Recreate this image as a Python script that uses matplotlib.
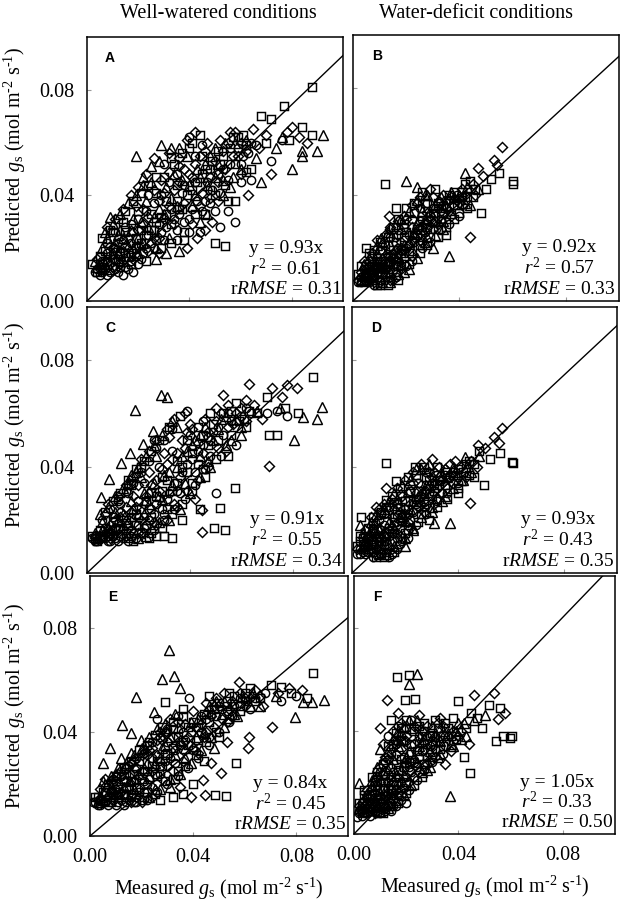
import numpy as np
import matplotlib
matplotlib.use("Agg")
import matplotlib.pyplot as plt

plt.rcParams['font.family'] = ['Liberation Serif', 'DejaVu Serif']
plt.rcParams['mathtext.fontset'] = 'custom'
plt.rcParams['mathtext.rm'] = 'Liberation Serif'
plt.rcParams['mathtext.it'] = 'Liberation Serif:italic'

# point values in mmol m-2 s-1 (x = measured, y = predicted), divided by 1000 when drawn
# panel A, well-watered
a_circ = [(3,11),(5,10),(7,12),(8,10),(10,13),(12,11),(14,10),(16,12),(18,11),(6,15),(9,17),(13,19),(17,22),(20,14),
          (22,18),(24,25),(26,20),(28,29),(30,23),(33,35),(35,27),(37,41),(40,31),(42,45),(44,26),(46,38),(48,50),(50,34),
          (52,28),(55,46),(58,30),(60,52),(63,56),(66,59),(72,53),(40,62),(76,61),(24,40),(30,52),(15,28),
          (4,12),(6,11),(9,11),(11,12),(13,13),(15,13),(17,15),(19,17),(21,16),(23,20),(25,22),(27,23),(29,26),(31,28),
          (34,31),(36,33),(38,30),(41,35),(43,38),(45,34),(47,45),(49,42),(51,48),(53,50),(56,52),(59,58),(61,55),
          (64,60),(10,20),(8,18),
          (8,22),(11,26),(14,23),(17,29),(20,31),(23,34),(26,37),(29,40),(32,45),(35,48),(38,44),(42,55),(45,59),
          (48,37),(52,41),(55,34),(60,45),(64,46),(35,23),(40,26)]
a_tri = [(4,13),(6,20),(8,24),(9,32),(11,22),(13,27),(16,17),(19,55),(29,59),(21,30),(23,38),(25,45),(27,16),(31,43),
         (34,48),(36,19),(39,55),(41,36),(43,50),(47,44),(50,58),(53,40),(57,47),(62,61),(68,45),(74,58),(80,50),(84,57),
         (84,55),(90,57),(92,63),(76,62),(10,18),(14,24),(18,31),(32,24),
         (3,15),(5,14),(7,14),(9,12),(12,18),(14,15),(16,21),(18,20),(20,24),(22,22),(24,28),(26,32),(28,35),(30,33),
         (33,39),(35,36),(37,46),(40,44),(42,40),(44,47),(46,52),(48,55),(51,52),(54,60),(58,60),(12,25),(17,27),(22,44),
         (7,26),(10,29),(13,33),(16,37),(19,40),(22,47),(25,51),(28,53),(33,58),(36,58),(44,30),(47,33),(50,47),
         (53,46),(56,43),(60,50),(66,54),(31,18),(27,20),(20,18)]
a_sq = [(2,14),(5,17),(7,19),(10,26),(12,15),(15,34),(17,14),(19,24),(21,41),(23,15),(25,33),(27,47),(29,20),(31,38),
        (33,54),(35,44),(38,26),(40,58),(42,33),(45,55),(48,42),(50,22),(54,21),(52,52),(55,38),(57,62),(58,38),(61,63),
        (64,50),(68,70),(72,69),(77,74),(88,81),(84,66),(88,63),(79,61),(70,60),(36,35),(26,27),
        (4,11),(6,13),(8,15),(11,16),(13,17),(15,18),(17,18),(19,20),(21,22),(23,25),(25,27),(27,30),(29,32),(31,33),
        (33,29),(35,38),(37,35),(39,40),(41,42),(43,45),(45,48),(47,50),(49,53),(51,57),(53,55),(56,58),(59,62),(62,59),
        (20,34),(14,30),
        (6,24),(9,27),(12,31),(15,26),(18,38),(21,27),(24,44),(27,41),(30,47),(34,52),(37,56),(41,60),(44,63),(46,33),
        (50,40),(54,44),(58,52),(62,49),(38,23),(33,22)]
a_dia = [(4,16),(6,12),(9,14),(11,20),(13,14),(15,21),(18,16),(20,27),(22,35),(24,19),(26,42),(28,24),(30,31),(32,49),
         (34,29),(36,51),(38,37),(41,47),(43,24),(45,41),(47,60),(49,30),(51,45),(53,57),(56,64),(59,55),(63,40),(65,65),
         (67,58),(72,48),(78,64),(80,66),(83,62),(86,60),(70,63),(39,20),(46,27),
         (5,12),(7,15),(10,16),(12,22),(14,19),(16,24),(18,26),(20,21),(22,29),(24,32),(26,24),(28,38),(30,41),(32,36),
         (34,42),(36,45),(38,50),(40,48),(42,52),(44,55),(46,57),(48,47),(50,53),(52,61),(55,60),(58,64),(60,60),(62,57),
         (19,36),(9,21),
         (8,28),(11,31),(14,35),(17,40),(20,43),(23,48),(26,54),(29,46),(32,56),(36,54),(39,61),(42,64),(44,36),
         (48,39),(51,38),(54,50),(57,55),(60,48),(41,29),(28,18)]

# panel B, water-deficit
b_circ = [(2,7),(3,9),(5,8),(6,7),(8,9),(10,8),(12,10),(14,9),(4,12),(7,13),(9,15),(11,12),(13,17),(15,14),(17,20),
          (19,16),(21,25),(23,22),(25,30),(27,26),(30,35),(33,31),(35,38),(38,36),(16,11),(20,13),(6,10),
          (3,7),(4,9),(5,10),(7,9),(8,11),(9,10),(11,10),(12,12),(13,11),(14,12),(15,16),(17,15),(18,19),(20,20),(22,23),
          (24,25),(26,28),(28,30),(29,32),(31,33),(32,35),(34,36),(36,38),(39,40),(41,39),(10,11),(16,13),
          (5,14),(7,17),(10,19),(12,21),(14,24),(17,25),(19,28),(22,31),(25,35),(28,37),(8,6),(12,8),(16,9),(19,14),
          (22,15),(26,20),(29,22),(33,27),(36,29),(40,32)]
b_tri = [(3,8),(5,11),(7,10),(9,18),(10.5,23.5),(12,13),(14,21),(16,16),(18,27),(20,45),(24,43),(28,40),(22,19),(24,29),
         (26,34),(28,24),(30,30),(32,38),(34,27),(36,17),(37,41),(40,40),(42,48),(44,36),(47,42),(30,20),(19,11),
         (4,8),(6,9),(7,12),(8,13),(10,13),(11,16),(13,15),(15,18),(17,17),(19,21),(21,22),(23,26),(25,27),(27,31),
         (29,34),(31,36),(33,39),(35,36),(38,39),(43,43),(14,11),(18,14),
         (4,14),(6,16),(9,21),(11,22),(13,26),(16,29),(18,31),(21,34),(24,38),(27,40),(11,7),(14,7),(17,10),(21,12),
         (24,16),(27,22),(31,25),(34,30),(37,33),(42,37)]
b_sq = [(2,10),(4,7),(5,20),(7,15),(9,11),(11,19),(12,44),(13,14),(15,24),(16,35),(17,13),(19,29),(21,18),(23,33),
        (25,21),(27,37),(29,27),(31,42),(33,35),(35,25),(38,41),(40,33),(42,44),(45,39),(48,33),(50,42),(55,48),(60,44),
        (60,45),(52,46),(44,45),(10,6),
        (3,8),(5,9),(6,11),(8,14),(9,13),(11,14),(12,15),(14,15),(15,19),(16,22),(18,18),(19,24),(20,26),(22,25),
        (24,27),(26,32),(28,28),(30,33),(32,37),(34,33),(36,40),(39,36),(41,41),(43,39),(46,42),(7,8),
        (3,13),(6,18),(8,19),(10,22),(13,24),(15,28),(17,31),(20,35),(23,37),(26,41),(9,6),(13,6),(17,8),(21,14),
        (25,18),(28,21),(32,24),(35,28),(38,31),(43,35)]
b_dia = [(3,11),(6,13),(8,12),(10,15),(12,17),(13.5,32),(14,28),(16,19),(18,22),(20,31),(22,28),(24,37),(26,25),(28,33),
         (30,39),(32,29),(34,40),(36,34),(39,38),(41,42),(44,24),(47,50),(53,53),(54,51),(56,58),(49,47),(15,8),(8,7),
         (2,8),(4,10),(5,12),(7,11),(9,12),(11,13),(13,13),(14,17),(16,17),(18,20),(19,19),(21,21),(23,24),(25,28),
         (27,29),(29,31),(31,30),(33,34),(35,35),(37,39),(40,37),(42,40),(45,44),(6,8),
         (4,15),(7,18),(9,23),(12,25),(14,27),(17,30),(19,32),(22,36),(25,39),(29,42),(10,7),(14,8),(18,12),(22,17),
         (26,22),(30,27),(33,30),(37,32),(41,36),(46,40)]

# panel C, well-watered
c_circ = [(2,13),(4,12),(6,13),(8,12),(10,14),(12,12),(14,13),(16,12),(19,13),(7,17),(10,21),(13,26),(16,30),(20,18),
          (22,34),(25,24),(28,40),(30,20),(33,46),(36,30),(39,61),(40,52),(42,38),(45,57),(48,44),(50,30),(55,60),(58,48),
          (62,62),(70,60),(74,61),(78,59),(26,50),
          (3,12),(5,13),(7,13),(9,12),(11,13),(13,14),(15,14),(17,16),(18,15),(21,15),(23,18),(24,20),(26,22),(27,26),
          (29,24),(31,28),(32,30),(34,34),(35,31),(37,38),(39,41),(41,43),(43,46),(45,48),(47,51),(49,53),(51,55),
          (53,52),(56,57),(60,59),(64,60),(12,17),(20,27),
          (6,20),(9,24),(12,27),(15,31),(18,34),(21,38),(24,42),(27,47),(30,50),(33,54),(14,16),(17,14),(22,17),
          (26,16),(30,22),(34,24),(38,28),(42,33),(46,39),(52,44)]
c_tri = [(3,15),(5.5,28.6),(8.6,35.3),(13.2,41.5),(16.6,45),(18.6,61.3),(21.7,48.5),(25.6,53.5),(28.7,67),(31,66),(6,19),
         (9,16),(11,23),(14,18),(17,27),(19,38),(22,22),(24,31),(27,44),(29,28),(32,38),(35,55),(38,34),(41,48),(44,52),
         (47,42),(52,58),(56,50),(60,55),(66,61),(80.4,50),(84,58.8),(89.6,58),(91.5,62.3),(75,62),
         (4,13),(6,16),(8,17),(10,17),(12,20),(14,22),(16,19),(18,24),(20,22),(22,30),(24,26),(26,34),(28,29),(30,37),
         (33,33),(35,40),(37,44),(39,46),(42,50),(44,44),(46,55),(49,50),(51,54),(54,59),(58,58),(16,34),(21,36),
         (5,22),(8,25),(11,29),(14,32),(17,37),(20,40),(23,44),(26,48),(29,52),(33,57),(20,13),(23,14),(28,19),
         (32,20),(36,24),(40,30),(44,36),(48,40),(54,48),(60,52)]
c_sq = [(3,13),(5,16),(8,14),(10,19),(12,28),(15,15),(17,33),(19,22),(21,40),(23,17),(25,30),(27,14),(29,36),(31,24),
        (33,13),(35,42),(37,20),(39,50),(41,31),(43,55),(46,36),(48,60),(49.5,17),(53.7,16),(51.8,24.4),(57.5,32),(55,44),
        (58,64),(62,55),(66,60),(71,52),(74,52),(77,62),(82,60),(88,73.8),(70,66),(44,24),
        (2,14),(4,12),(6,14),(9,15),(11,16),(13,17),(15,20),(17,21),(19,18),(21,24),(23,27),(25,21),(27,29),(29,31),
        (31,35),(33,31),(35,34),(37,40),(39,38),(41,45),(43,41),(45,52),(47,48),(49,56),(51,50),(53,60),(56,61),(59,57),
        (63,61),(18,12),(24,13),(30,14),
        (7,23),(10,27),(13,30),(16,35),(19,39),(22,42),(25,46),(28,50),(32,55),(36,59),(16,13),(25,15),(29,17),
        (33,22),(37,26),(41,34),(45,39),(50,43),(56,52),(61,58)]
c_dia = [(4,14),(7,22),(9,13),(11,17),(13,21),(15,25),(18,29),(20,15),(22,26),(24,38),(26,19),(28,31),(30,45),(32,51),
         (34,26),(36,36),(38,47),(40,56),(42,28),(44.6,23.7),(44.8,15.5),(46,58),(48,50),(50,62),(53,67),(54,46),(57,56),
         (60,62),(63,71),(65,63),(68,58),(71,40.3),(71.9,69.7),(78,70.7),(81.9,69.7),(76,66),
         (3,14),(5,14),(7,15),(9,18),(11,20),(13,23),(15,18),(17,23),(19,25),(21,20),(23,29),(25,33),(27,35),(29,39),
         (31,41),(33,43),(35,45),(37,50),(39,53),(41,54),(43,49),(45,45),(47,53),(50,57),(52,60),(55,63),(58,60),(62,65),
         (20,33),
         (8,26),(12,29),(15,33),(18,36),(21,43),(24,46),(27,50),(31,54),(34,58),(38,60),(22,15),(27,18),(31,20),
         (35,25),(39,31),(43,35),(47,40),(51,47),(55,55),(62,57)]

# panel D, water-deficit
d_circ = [(2,7),(3,9),(5,7),(7,8),(9,7),(11,9),(13,8),(15,7),(17,9),(4,11),(6,13),(8,15),(10,12),(12,18),(14,14),(16,21),
          (18,17),(20,24),(22,20),(25,28),(28,26),(31,33),(34,30),(37,36),(40,34),(6,10),(19,12),
          (3,7),(4,8),(6,8),(8,9),(10,9),(12,10),(13,12),(15,12),(16,15),(17,13),(18,20),(19,19),(21,22),(23,23),(24,26),
          (26,29),(27,25),(29,30),(30,34),(32,32),(33,35),(35,37),(38,38),(11,16),(7,11),
          (5,14),(8,17),(10,20),(12,22),(14,25),(17,26),(19,27),(22,31),(25,34),(28,38),(8,6),(11,7),(14,6),(18,11),
          (21,13),(24,18),(28,22),(32,27),(36,30),(40,36)]
d_tri = [(3,18),(5,12),(7,16),(9,20),(11,14),(13,23),(15,18),(17,28),(19,22),(21,31),(24,39),(23,16),(26,27),(28,33),
         (30,25),(31,18.7),(33,37),(35,29),(37,18.7),(38,40),(41,35),(42.6,43.7),(45,38),(48,44),(20,10),
         (4,10),(6,11),(8,13),(9,14),(10,16),(12,15),(14,19),(16,17),(18,21),(20,20),(22,24),(23,27),(25,29),(27,30),
         (29,33),(31,35),(34,37),(36,36),(39,38),(43,40),(14,11),
         (4,15),(7,19),(9,22),(12,24),(14,27),(16,30),(19,33),(22,35),(26,39),(29,41),(10,7),(13,7),(16,10),(20,13),
         (23,17),(26,21),(30,23),(34,27),(38,32),(42,35)]
d_sq = [(2,10),(3.5,21),(6,9),(8,18),(10,13),(12.7,41.5),(13,27.4),(14,17),(16.6,34.7),(18,25),(20,15),(22,30),(23.6,40),
        (26,22),(28,36),(30,29),(32,40),(35,33),(38,37),(40,30),(43,41),(46,36),(49.8,33),(52,43),(56,45),(60.3,41.8),
        (60.8,41.2),(48,46),(12,11),
        (3,12),(4,13),(5,10),(7,12),(9,12),(11,12),(13,14),(15,15),(16,19),(17,22),(19,21),(20,27),(21,24),(24,28),
        (25,31),(27,27),(29,35),(31,31),(33,33),(36,38),(40,39),(42,38),(44,42),(46,41),(8,8),
        (3,14),(6,17),(8,21),(11,23),(13,25),(15,29),(18,32),(21,36),(24,37),(27,40),(9,6),(12,6),(16,8),(21,16),
        (25,19),(29,20),(32,25),(36,28),(40,32),(44,37)]
d_dia = [(4,9),(6,14),(8,11),(10,17),(11,22),(13,32),(15,26),(17,15),(19,29),(21,19),(23,34),(25,25),(27,31),(29,38),
         (32,28),(34,35),(36,32),(39,42),(44.5,26.2),(47.5,48),(53.6,51.3),(55.5,48.9),(56.5,54.4),(50,47),(9,25),
         (2,9),(5,11),(7,14),(8,16),(10,14),(12,14),(14,16),(15,21),(16,24),(18,23),(20,22),(22,26),(24,30),(26,33),
         (28,31),(30,36),(31,38),(33,40),(35,39),(37,41),(41,40),(45,42),(9,9),
         (5,16),(7,21),(10,24),(12,26),(15,28),(17,32),(20,35),(23,38),(26,41),(30,43),(11,8),(15,9),(19,13),(22,17),
         (27,23),(31,26),(34,30),(38,34),(43,36),(47,40)]

# panel E, well-watered
e_circ = [(1.3,13),(3,12),(5,13),(7,12),(9,14),(11,13),(13,12),(15,14),(17,13),(20,14),(6,17),(9,20),(12,23),(15,18),
          (18,26),(21,21),(24,30),(27,24),(30,36),(33,28),(36,40),(38.2,52.9),(40,33),(43,46),(46,38),(50,50),(54,44),
          (58,53),(62,49),(68,55),(74,52),(80,54),(26,45),
          (2,13),(4,12),(6,13),(8,13),(10,12),(12,14),(14,13),(16,16),(18,15),(19,17),(21,17),(22,20),(23,22),(25,24),
          (27,27),(29,29),(31,30),(33,33),(35,35),(37,37),(39,40),(41,42),(43,40),(45,45),(47,47),(49,46),(51,49),
          (53,48),(56,50),(60,52),(64,53),(11,17),(7,15),
          (6,19),(9,22),(12,25),(15,27),(18,30),(21,32),(24,36),(27,38),(30,41),(34,46),(18,13),(22,14),(26,17),
          (30,20),(34,23),(38,26),(42,30),(46,35),(50,40),(55,46)]
e_tri = [(30.5,71.5),(27.8,60.3),(32.7,61.5),(35,56.8),(17.8,53.3),(12.4,42.7),(7.8,33.7),(5,28),(16,39.6),(19.8,37),
         (24.7,47.8),(4,15),(8,19),(10,24),(14,16),(17,22),(22,28),(25,18),(28,34),(31,22),(34,42),(37,30),(41,38),(45,48),
         (48,34),(52,52),(56,47),(63,55),(72,54),(79.3,45.6),(82.4,51.7),(86,51.7),(90.8,52.3),(66,50),
         (3,13),(5,14),(7,16),(9,18),(11,16),(13,19),(15,21),(17,18),(19,24),(21,26),(23,23),(25,28),(27,30),(29,35),
         (31,38),(33,31),(35,37),(37,34),(39,44),(42,45),(44,40),(46,50),(49,52),(51,47),(55,51),(59,54),(12,30),(16,32),
         (5,21),(8,23),(11,26),(14,28),(17,31),(20,34),(23,38),(26,41),(29,43),(33,47),(23,15),(27,18),(31,19),
         (35,24),(39,28),(43,33),(47,38),(52,42),(57,46),(62,50)]
e_sq = [(2,15),(5,17),(8,13),(10,21),(13,26),(16,15),(19,29),(22,17),(23,36),(26,23),(29,51.7),(29,31),(32,41),(34,25),
        (36,46),(38,35),(40,20),(42,42),(44,29),(46,54),(48.5,15.8),(52.8,15.4),(50,38),(56.7,28),(54,55),(58,48),(62,57),
        (66,53),(70,58),(74,57.4),(78,55),(86.5,62.6),(84,53),
        (3,15),(6,14),(9,15),(11,15),(13,16),(14,19),(16,21),(17,24),(18,19),(20,22),(22,25),(24,27),(26,29),(28,27),
        (30,32),(32,34),(34,38),(36,36),(38,42),(40,44),(42,37),(44,47),(46,44),(48,49),(50,51),(53,50),(56,54),(60,55),
        (64,52),(27,14),(32,15),(36,16),
        (7,20),(10,23),(13,24),(16,29),(19,33),(22,35),(25,39),(28,42),(32,44),(36,49),(21,15),(25,16),(29,21),
        (33,22),(37,27),(41,31),(45,36),(49,40),(54,45),(58,50)]
e_dia = [(3,14),(6,22),(9,16),(11,19),(14,21),(16,28),(19,18),(21,33),(24,25),(27,40),(30,27),(33,35),(35,19),(37,43),
         (39.3,15.1),(43.9,21.5),(44.7,15.8),(50.8,24.1),(42,32),(45,40),(48,50),(51,45),(53,36),(55,52),(57.8,59.3),
         (60,53),(61.3,33.7),(61.6,38.2),(64,56),(67,50),(70.5,42),(73,55),(77,57),(82,56),(47,28),
         (4,14),(5,16),(8,17),(10,18),(12,17),(13,21),(15,23),(17,26),(18,22),(20,25),(22,31),(24,34),(26,31),(28,37),
         (30,40),(32,38),(34,44),(36,33),(38,38),(40,48),(43,43),(45,51),(47,46),(49,53),(52,55),(54,49),(58,55),(62,53),
         (66,54),(24,15),(20,13),
         (4,18),(8,21),(11,24),(14,26),(17,29),(20,31),(23,33),(26,37),(29,40),(31,45),(16,13),(24,19),(28,22),
         (32,25),(36,29),(40,34),(44,38),(48,42),(53,44),(60,50)]

# panel F, water-deficit
f_circ = [(1.2,6.7),(2,9),(4,8),(6,7),(8,9),(10,8),(12,10),(14,9),(16,11),(3,12),(5,14),(7,17),(9,13),(11,20),(13,16),
          (15,24),(17,19),(19,30),(21,26),(23,35),(25,30),(27,40),(29,34),(13,38),(17,42),(33,38),(20,12),
          (2,8),(3,7),(5,8),(7,9),(8,11),(9,10),(10,12),(11,11),(12,13),(13,14),(14,12),(15,15),(16,17),(17,15),(18,20),
          (19,18),(20,22),(22,24),(23,28),(24,26),(26,32),(28,30),(30,36),(31,33),(35,38),(7,12),(4,11),(6,10),
          (6,15),(8,20),(10,24),(12,28),(14,31),(16,35),(18,38),(20,41),(22,44),(25,38),(9,8),(12,9),(15,11),(18,13),
          (21,17),(24,21),(27,25),(30,28),(34,31),(38,36)]
f_tri = [(1.9,19.6),(3,10),(5,11),(7,21),(9,15),(11,25),(13,12),(15,29),(17,34),(19,23),(21,58),(24,62),(22,41),(24,28),
         (26,36),(28,25),(30,42),(32,30),(34,40),(36.6,14.7),(38,34),(40,43),(43,38),(46,44),(50,46),(10,33),
         (2,10),(4,9),(6,12),(8,13),(9,11),(10,16),(11,14),(12,17),(14,18),(15,21),(16,23),(18,25),(19,28),(20,30),
         (21,32),(23,30),(25,34),(27,37),(29,32),(31,38),(33,36),(36,39),(39,40),(42,43),(17,40),(13,25),
         (5,16),(7,19),(9,26),(11,29),(13,32),(15,37),(17,37),(19,42),(21,44),(24,44),(10,9),(13,10),(16,13),(19,15),
         (22,19),(26,24),(29,26),(33,31),(37,35),(41,37)]
f_sq = [(2,12),(4,15),(6,9),(8,19),(10,12),(12,23),(14,16),(16.4,60.7),(20.9,61.6),(19.4,52),(23.2,52.2),(16,27),(18,36),
        (20,20),(22,31),(25,42),(27,27),(29,38),(31,44),(33,33),(36,41),(40,51.5),(39,37),(42,30),(44.5,23.5),(47,45),
        (49,41),(51.6,50),(55.9,48.7),(54.4,36.2),(57,38),(59.7,37.3),(60.5,38),(14,44),
        (3,11),(5,10),(6,14),(7,15),(9,17),(10,14),(11,18),(12,20),(13,18),(14,22),(15,17),(16,20),(17,25),(18,29),
        (19,26),(21,28),(22,35),(24,32),(26,38),(28,35),(30,39),(32,41),(35,43),(38,45),(45,47),(15,35),(8,11),
        (4,17),(7,22),(9,24),(11,27),(13,34),(16,39),(18,41),(20,44),(23,40),(27,43),(11,8),(14,11),(17,12),(20,16),
        (23,19),(26,22),(30,30),(34,34),(37,38),(43,41)]
f_dia = [(3,9),(5,17),(7,13),(9,22),(11,10),(12.6,52),(13,29),(15,20),(17,47),(18,15),(20,38),(23,22),(25,46),(27,33),
         (29,28),(31,38),(33,45),(35,27),(37,32),(41,40),(46,53.9),(53.6,54.8),(55,44.4),(58,47),(44,35),(10,41),
         (2,11),(4,13),(5,12),(7,10),(8,16),(9,19),(10,20),(11,23),(12,15),(13,20),(14,26),(16,31),(17,22),(18,33),
         (19,36),(20,27),(22,28),(24,36),(26,40),(28,42),(30,35),(32,43),(34,42),(38,40),(11,35),(15,40),
         (5,15),(8,21),(10,26),(12,30),(14,33),(16,36),(18,43),(20,36),(23,42),(28,38),(8,8),(12,11),(15,13),(18,17),
         (21,20),(25,24),(28,27),(31,30),(35,34),(40,38)]

panel_letters = ["A", "B", "C", "D", "E", "F"]
slopes = [0.93, 0.92, 0.91, 0.93, 0.84, 1.05]
r2 = [0.61, 0.57, 0.55, 0.43, 0.45, 0.33]
rrmse = [0.31, 0.33, 0.34, 0.35, 0.35, 0.50]
ticks = [0.0, 0.04, 0.08]
col_titles = ["Well-watered conditions", "Water-deficit conditions"]

points = [(a_circ, a_tri, a_sq, a_dia), (b_circ, b_tri, b_sq, b_dia), (c_circ, c_tri, c_sq, c_dia),
          (d_circ, d_tri, d_sq, d_dia), (e_circ, e_tri, e_sq, e_dia), (f_circ, f_tri, f_sq, f_dia)]

# axes boxes in pixels: left, top, right, bottom
boxes = [(87, 37, 343, 301), (353, 35, 619, 301),
         (87, 307, 344, 573), (352, 307, 617, 573),
         (90, 576, 348, 836), (354, 576, 615, 834)]

W, H = 624, 908
fig = plt.figure(figsize=(W / 100, H / 100), dpi=100)

markers = [('o', 6.0), ('^', 7.0), ('s', 5.8), ('D', 5.0)]
unit_label = r"(mol m$^{\text{-}2}$ s$^{\text{-}1}$)"

for i, (l, t, r, b) in enumerate(boxes):
    ax = fig.add_axes([l / W, 1 - b / H, (r - l) / W, (b - t) / H])
    for pts, (mk, ms) in zip(points[i], markers):
        arr = np.array(pts) / 1000.0
        ax.plot(arr[:, 0], arr[:, 1], ls='none', marker=mk, ms=ms, mfc='none', mec='black', mew=1.05)
    xx = np.array([0.0, 0.1])
    ax.plot(xx, slopes[i] * xx, color='black', lw=1.0)
    ax.set_xlim(0, 0.1)
    ax.set_ylim(0, 0.1)
    ax.set_xticks(ticks)
    ax.set_yticks(ticks)
    ax.tick_params(direction='in', length=3, width=0.8, color='#999999', labelsize=14.5, pad=9)
    if i % 2 == 1:
        ax.set_yticklabels([])
    else:
        ax.set_yticklabels([f"{v:.2f}" for v in ticks])
    if i < 4:
        ax.set_xticklabels([])
    else:
        ax.set_xticklabels([f"{v:.2f}" for v in ticks])
        ax.set_xlabel(r"Measured $g_\mathrm{s}$ " + unit_label, fontsize=14.5, labelpad=6)
    for sp in ax.spines.values():
        sp.set_linewidth(1.1)
    ax.text(0.09, 0.92, panel_letters[i], transform=ax.transAxes, ha='center', va='center',
            fontsize=10, fontweight='bold', family='Liberation Sans')
    ax.text(0.777, 0.20, f"y = {slopes[i]:.2f}x", transform=ax.transAxes, ha='center', va='center', fontsize=14)
    ax.text(0.777, 0.125, f"$r^2$ = {r2[i]:.2f}", transform=ax.transAxes, ha='center', va='center', fontsize=14)
    ax.text(0.777, 0.045, f"r$RMSE$ = {rrmse[i]:.2f}", transform=ax.transAxes, ha='center', va='center', fontsize=14)

ylab_y = [150, 425, 706]
for yy in ylab_y:
    fig.text(15 / W, 1 - yy / H, r"Predicted $g_\mathrm{s}$ " + unit_label, rotation=90,
             ha='center', va='center', fontsize=14.5)

fig.text(218 / W, 1 - 14 / H, col_titles[0], ha='center', va='center', fontsize=14.5)
fig.text(476 / W, 1 - 14 / H, col_titles[1], ha='center', va='center', fontsize=14.5)

fig.savefig("out.png", dpi=100)
